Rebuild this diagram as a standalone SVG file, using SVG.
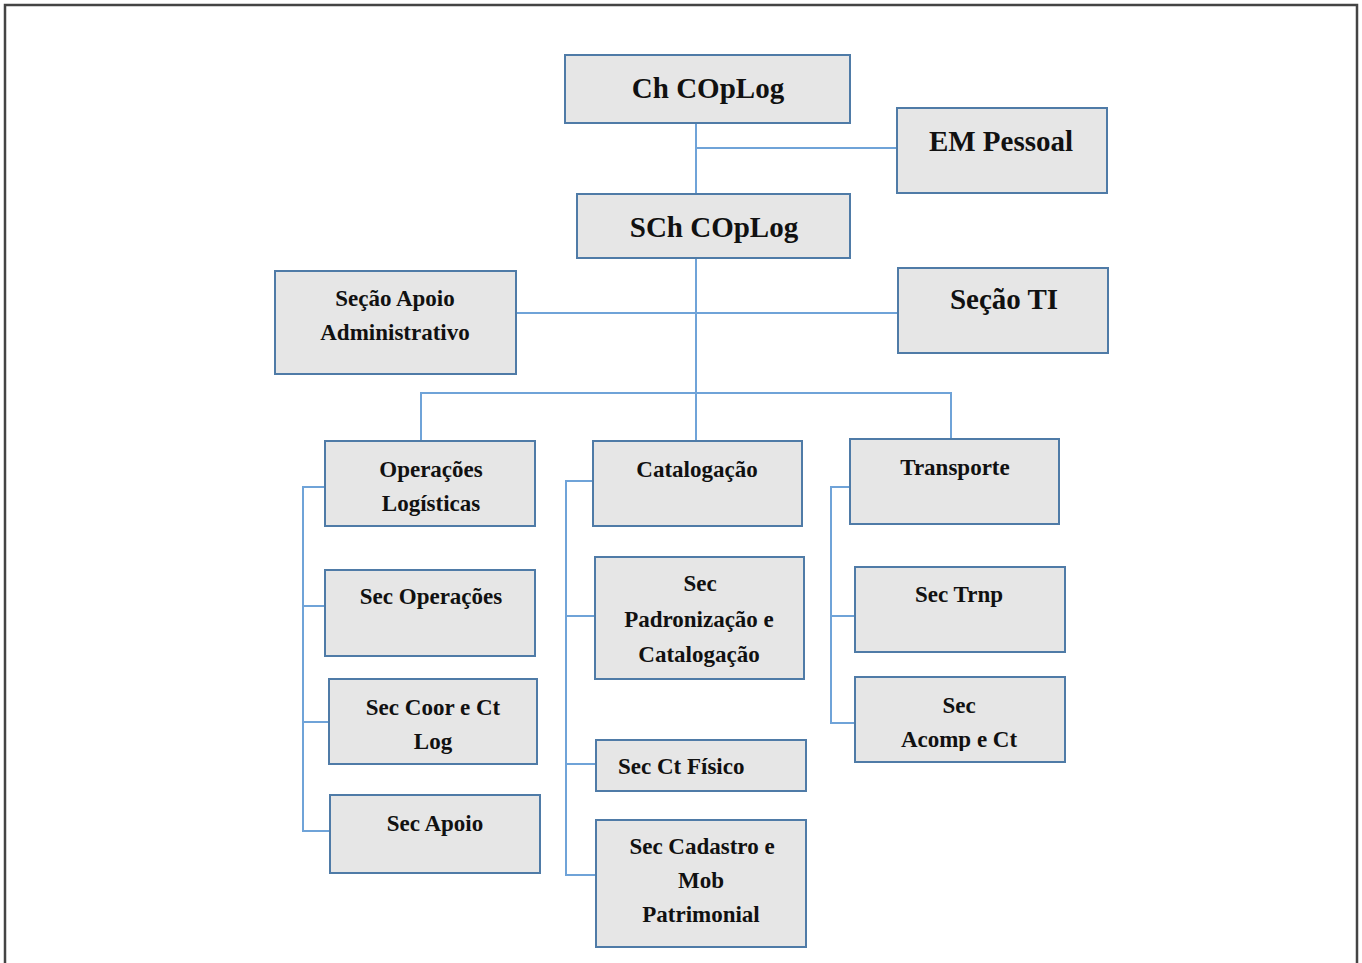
<svg xmlns="http://www.w3.org/2000/svg" width="1362" height="963" viewBox="0 0 1362 963">
  <style>
    .box { fill: #e6e6e6; stroke: #4f7ba7; stroke-width: 2; }
    .lnk { fill: none; stroke: #6fa3d8; stroke-width: 2; }
    text { font-family: "Liberation Serif", Tinos, "Times New Roman", "DejaVu Serif", serif; font-weight: bold; fill: #111; text-anchor: middle; }
    .big { font-size: 29px; }
    .sm { font-size: 23px; }
  </style>
  <defs>
    <clipPath id="clipAcomp"><rect x="856" y="678" width="208" height="73"/></clipPath>
  </defs>
  <rect x="0" y="0" width="1362" height="963" fill="#ffffff"/>
  <!-- page frame -->
  <path d="M5,970 V5 H1357 V970" fill="none" stroke="#444" stroke-width="2.5"/>

  <g id="connectors">
    <path class="lnk" d="M696,123 V194 M696,148 H897"/>
    <path class="lnk" d="M696,258 V441 M516,313 H898"/>
    <path class="lnk" d="M421,443 V393 H951 V439"/>
    <path class="lnk" d="M325,487 H303 V831 H330 M303,606 H325 M303,722 H329"/>
    <path class="lnk" d="M593,481 H566 V875 H596 M566,616 H595 M566,764 H596"/>
    <path class="lnk" d="M850,487 H831 V723 H855 M831,616 H855"/>
  </g>

  <g id="ch-coplog">
    <rect class="box" x="565" y="55" width="285" height="68"/>
    <text class="big" x="708" y="98">Ch COpLog</text>
  </g>
  <g id="em-pessoal">
    <rect class="box" x="897" y="108" width="210" height="85"/>
    <text class="big" x="1001" y="151">EM Pessoal</text>
  </g>
  <g id="sch-coplog">
    <rect class="box" x="577" y="194" width="273" height="64"/>
    <text class="big" x="714" y="237">SCh COpLog</text>
  </g>
  <g id="secao-apoio-adm">
    <rect class="box" x="275" y="271" width="241" height="103"/>
    <text class="sm" x="395" y="306">Seção Apoio</text>
    <text class="sm" x="395" y="340">Administrativo</text>
  </g>
  <g id="secao-ti">
    <rect class="box" x="898" y="268" width="210" height="85"/>
    <text class="big" x="1004" y="309">Seção TI</text>
  </g>

  <g id="operacoes-logisticas">
    <rect class="box" x="325" y="441" width="210" height="85"/>
    <text class="sm" x="431" y="477">Operações</text>
    <text class="sm" x="431" y="511">Logísticas</text>
  </g>
  <g id="sec-operacoes">
    <rect class="box" x="325" y="570" width="210" height="86"/>
    <text class="sm" x="431" y="604">Sec Operações</text>
  </g>
  <g id="sec-coor-ct-log">
    <rect class="box" x="329" y="679" width="208" height="85"/>
    <text class="sm" x="433" y="715">Sec Coor e Ct</text>
    <text class="sm" x="433" y="749">Log</text>
  </g>
  <g id="sec-apoio">
    <rect class="box" x="330" y="795" width="210" height="78"/>
    <text class="sm" x="435" y="831">Sec Apoio</text>
  </g>

  <g id="catalogacao">
    <rect class="box" x="593" y="441" width="209" height="85"/>
    <text class="sm" x="697" y="477">Catalogação</text>
  </g>
  <g id="sec-padronizacao">
    <rect class="box" x="595" y="557" width="209" height="122"/>
    <text class="sm" x="700" y="591">Sec</text>
    <text class="sm" x="699" y="627">Padronização e</text>
    <text class="sm" x="699" y="662">Catalogação</text>
  </g>
  <g id="sec-ct-fisico">
    <rect class="box" x="596" y="740" width="210" height="51"/>
    <text class="sm" x="618" y="774" style="text-anchor:start">Sec Ct Físico</text>
  </g>
  <g id="sec-cadastro">
    <rect class="box" x="596" y="820" width="210" height="127"/>
    <text class="sm" x="702" y="854">Sec Cadastro e</text>
    <text class="sm" x="701" y="888">Mob</text>
    <text class="sm" x="701" y="922">Patrimonial</text>
  </g>

  <g id="transporte">
    <rect class="box" x="850" y="439" width="209" height="85"/>
    <text class="sm" x="955" y="475">Transporte</text>
  </g>
  <g id="sec-trnp">
    <rect class="box" x="855" y="567" width="210" height="85"/>
    <text class="sm" x="959" y="602">Sec Trnp</text>
  </g>
  <g id="sec-acomp-ct">
    <rect class="box" x="855" y="677" width="210" height="85"/>
    <g clip-path="url(#clipAcomp)">
      <text class="sm" x="959" y="713">Sec</text>
      <text class="sm" x="959" y="747">Acomp e Ct</text>
    </g>
  </g>
</svg>
